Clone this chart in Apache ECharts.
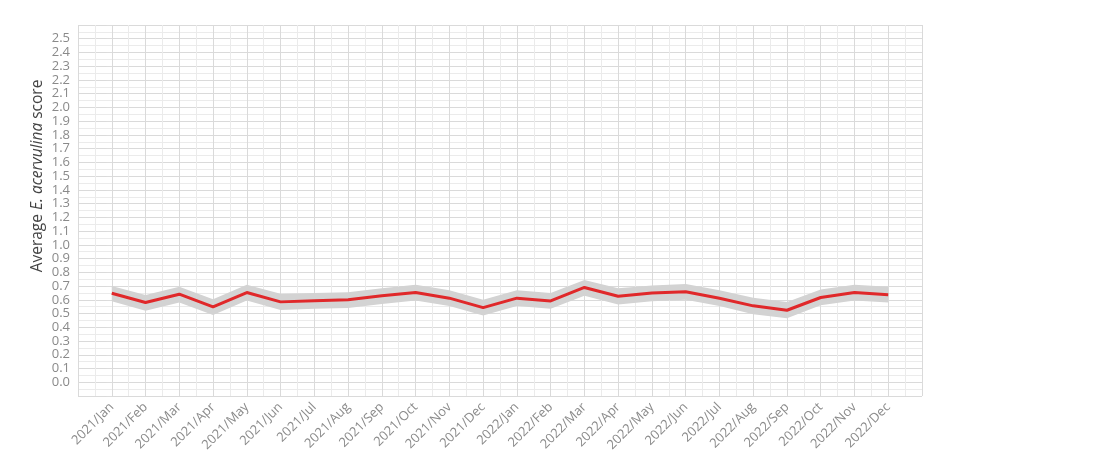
<!DOCTYPE html>
<html>
<head>
<meta charset="utf-8">
<script src="https://cdn.jsdelivr.net/npm/echarts@6/dist/echarts.min.js"></script>
<style>
  html, body { margin: 0; padding: 0; background: #fff; }
  #chart { width: 1100px; height: 475px; }
</style>
</head>
<body>
<div id="chart"></div>
<script>
// month categories
const months = [
  '2021/Jan', '2021/Feb', '2021/Mar', '2021/Apr', '2021/May', '2021/Jun',
  '2021/Jul', '2021/Aug', '2021/Sep', '2021/Oct', '2021/Nov', '2021/Dec',
  '2022/Jan', '2022/Feb', '2022/Mar', '2022/Apr', '2022/May', '2022/Jun',
  '2022/Jul', '2022/Aug', '2022/Sep', '2022/Oct', '2022/Nov', '2022/Dec'
];

// average score (red line)
const avgScore = [
  0.648, 0.58, 0.641, 0.548, 0.653, 0.585, 0.594, 0.6, 0.629, 0.653, 0.612, 0.543,
  0.612, 0.592, 0.69, 0.626, 0.65, 0.658, 0.612, 0.556, 0.524, 0.617, 0.653, 0.636
];

// grey band limits
const bandUpper = [
  0.70, 0.635, 0.695, 0.605, 0.71, 0.645, 0.65, 0.655, 0.685, 0.71, 0.67, 0.60,
  0.67, 0.65, 0.745, 0.685, 0.705, 0.715, 0.67, 0.615, 0.585, 0.675, 0.71, 0.695
];
const bandLower = [
  0.59, 0.52, 0.58, 0.49, 0.595, 0.525, 0.535, 0.54, 0.57, 0.595, 0.555, 0.485,
  0.555, 0.535, 0.63, 0.565, 0.59, 0.60, 0.555, 0.495, 0.465, 0.56, 0.595, 0.58
];

const FONT = '"Open Sans", sans-serif';

const chart = echarts.init(document.getElementById('chart'));

const bandData = bandUpper.map((v, i) => [i, bandLower[i], v]);
const lineData = avgScore.map((v, i) => [i, v]);

// draw the whole band as one polygon through the axis scales
const renderBand = (params, api) => {
  if (params.dataIndex !== 0) return null;
  const top = bandData.map((d) => api.coord([d[0], d[2]]));
  const bottom = bandData.map((d) => api.coord([d[0], d[1]])).reverse();
  return {
    type: 'polygon',
    shape: { points: top.concat(bottom) },
    style: { fill: '#d3d3d3' },
    silent: true
  };
};

const option = {
  animation: false,
  grid: { left: 78, right: 178, top: 25, bottom: 79 },
  graphic: [
    {
      type: 'text',
      x: 38,
      y: 176,
      rotation: Math.PI / 2,
      style: {
        text: '{n|Average }{i|E. acervulina}{n| score}',
        align: 'center',
        verticalAlign: 'middle',
        rich: {
          n: { fontFamily: FONT, fontSize: 15.5, fill: '#444' },
          i: { fontFamily: FONT, fontSize: 15.5, fontStyle: 'italic', fill: '#444' }
        }
      }
    }
  ],
  xAxis: {
    type: 'value',
    min: -1,
    max: 24,
    interval: 1,
    axisLine: { show: false },
    axisTick: { show: true, length: 2, lineStyle: { color: '#dcdcdc' } },
    axisLabel: {
      rotate: 45,
      margin: 9,
      color: '#8a8a8a',
      fontFamily: FONT,
      fontSize: 13,
      showMinLabel: true,
      showMaxLabel: true,
      formatter: (v) => (v >= 0 && v < months.length ? months[v] : '')
    },
    splitLine: { show: true, lineStyle: { color: '#dadada', width: 1 } },
    minorTick: { show: false, splitNumber: 2 },
    minorSplitLine: { show: true, lineStyle: { color: '#ebebeb', width: 1 } }
  },
  yAxis: {
    type: 'value',
    min: -0.1,
    max: 2.6,
    interval: 0.1,
    axisLine: { show: false },
    axisTick: { show: true, length: 5, lineStyle: { color: '#dcdcdc' } },
    axisLabel: {
      margin: 8,
      color: '#8a8a8a',
      fontFamily: FONT,
      fontSize: 13,
      formatter: (v) => (v < -0.01 || v > 2.55 ? '' : v.toFixed(1))
    },
    splitLine: { show: true, lineStyle: { color: '#dadada', width: 1 } },
    minorTick: { show: false, splitNumber: 2 },
    minorSplitLine: { show: true, lineStyle: { color: '#ebebeb', width: 1 } }
  },
  series: [
    {
      name: 'band',
      type: 'custom',
      renderItem: renderBand,
      data: bandData,
      encode: { x: 0, y: [1, 2] },
      silent: true,
      z: 2
    },
    {
      name: 'score',
      type: 'line',
      data: lineData,
      symbol: 'none',
      lineStyle: { color: '#e0282a', width: 3 },
      z: 5
    }
  ]
};

chart.setOption(option);
</script>
</body>
</html>
